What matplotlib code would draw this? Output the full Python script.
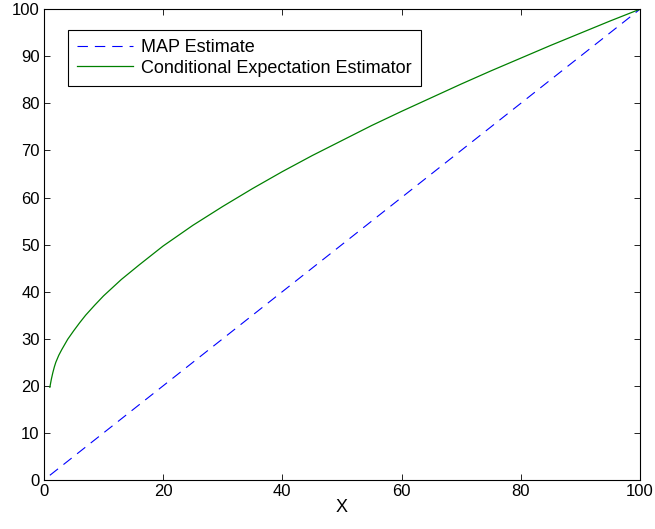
import matplotlib
matplotlib.use("Agg")
import matplotlib.pyplot as plt

plt.rcParams['font.family'] = ['Liberation Sans', 'DejaVu Sans']
plt.rcParams['lines.scale_dashes'] = False

map_x = [1, 100]
map_y = [1, 100]

ce_x = [1, 1.25, 1.5, 1.75, 2, 2.5, 3, 4, 5, 6, 7, 8.5, 10, 13, 16, 20, 25, 30, 35, 40, 45, 50, 55, 60, 65, 70, 75, 80, 85, 90, 95, 100]
ce_y = [19.7, 21.4, 22.8, 24.0, 25.0, 26.5, 27.7, 29.9, 31.7, 33.4, 35.0, 37.1, 39.1, 42.6, 45.7, 49.7, 54.1, 58.1, 61.9, 65.5, 68.9, 72.1, 75.3, 78.3, 81.2, 84.1, 86.9, 89.6, 92.3, 94.9, 97.5, 100]

xticks = [0, 20, 40, 60, 80, 100]
yticks = [0, 10, 20, 30, 40, 50, 60, 70, 80, 90, 100]

fig = plt.figure(figsize=(6.55, 5.29), dpi=100)
ax = fig.add_axes([0.067, 0.0926, 0.91, 0.89])
ax.plot(map_x, map_y, color='#0000ff', linestyle=(0, (7.5, 5)), linewidth=0.8, label='MAP Estimate')
ax.plot(ce_x, ce_y, color='#008000', linewidth=0.9, label='Conditional Expectation Estimator')
ax.set_xlim(0, 100)
ax.set_ylim(0, 100)
ax.set_xticks(xticks)
ax.set_yticks(yticks)
ax.tick_params(direction='in', top=True, right=True, labelsize=12, length=4.5, width=0.6, pad=3)
for s in ax.spines.values():
    s.set_linewidth(0.8)
ax.set_xlabel('X', fontsize=13, labelpad=0)
leg = ax.legend(loc='upper left', bbox_to_anchor=(0.04, 0.956), fontsize=13, fancybox=False,
                edgecolor='black', framealpha=1, handlelength=3.1, handletextpad=0.45,
                borderpad=0.5, labelspacing=0.2, borderaxespad=0)
leg.get_frame().set_linewidth(0.8)
fig.savefig('out.png', dpi=100)
